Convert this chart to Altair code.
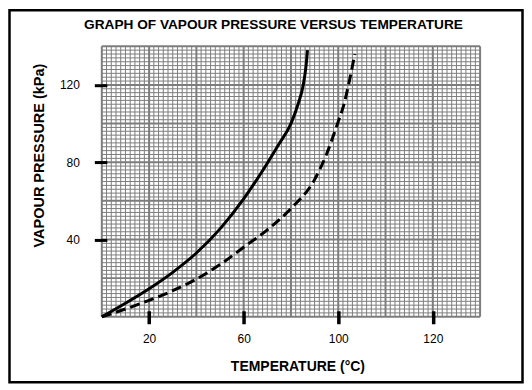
import altair as alt
import pandas as pd

# ---- data ----
solid_temp = [0, 10, 20, 30, 40, 50, 60, 70, 75, 80, 83, 85.2, 86.4, 87]
solid_pres = [0, 7, 14.5, 23, 33, 45.5, 61, 79.5, 89.5, 100, 110, 120, 130, 138]

dashed_temp = [0, 10, 20, 30, 40, 50, 60, 70, 80, 90, 95, 100, 102.2, 104.7, 107]
dashed_pres = [0, 4, 8.5, 13.5, 19.5, 27, 36, 45, 56, 71, 84, 101, 109, 122, 136]

x_tick_values = [20, 60, 100, 140]
x_tick_labels = ["20", "60", "100", "120"]
y_tick_values = [40, 80, 120]

X_MAX, Y_MAX = 160, 140
W, H = 379, 271

solid = pd.DataFrame({"t": solid_temp, "p": solid_pres, "i": range(len(solid_temp))})
dashed = pd.DataFrame({"t": dashed_temp, "p": dashed_pres, "i": range(len(dashed_temp))})

minor_x = pd.DataFrame({"v": [v for v in range(0, X_MAX + 1, 2) if v % 20]})
major_x = pd.DataFrame({"v": list(range(0, X_MAX + 1, 20))})
minor_y = pd.DataFrame({"v": [v for v in range(0, Y_MAX + 1, 2) if v % 20]})
major_y = pd.DataFrame({"v": list(range(0, Y_MAX + 1, 20))})

xs = alt.Scale(domain=[0, X_MAX], nice=False, zero=False)
ys = alt.Scale(domain=[0, Y_MAX], nice=False, zero=False)

label_expr = " : ".join(
    [f"datum.value == {v} ? '{l}'" for v, l in zip(x_tick_values, x_tick_labels)]
) + " : datum.label"

FONT = "Liberation Sans"
GRID = "#7d7d7d"

x_axis = alt.Axis(
    values=x_tick_values, labelExpr=label_expr, grid=False, domain=False,
    tickColor="black", tickWidth=3.5, tickSize=13, offset=-6, zindex=1,
    labelFont=FONT, labelFontSize=12, labelColor="black", labelPadding=10,
    title="TEMPERATURE (°C)", titleFont=FONT, titleFontSize=14, titleFontWeight="bold",
    titleColor="black", titleX=196, titleY=60, titleAlign="center", titleBaseline="alphabetic",
)
y_axis = alt.Axis(
    values=y_tick_values, grid=False, domain=False,
    tickColor="black", tickWidth=3, tickSize=12.5, offset=-5, zindex=1,
    labelFont=FONT, labelFontSize=12, labelColor="black", labelPadding=15,
    title="VAPOUR PRESSURE (kPa)", titleFont=FONT, titleFontSize=14.5, titleFontWeight="bold",
    titleColor="black", titleX=-63, titleY=109, titleAlign="center", titleBaseline="alphabetic",
    titleAngle=270,
)

gx_minor = alt.Chart(minor_x).mark_rule(color=GRID, strokeWidth=1).encode(
    x=alt.X("v:Q", scale=xs, axis=x_axis))
gy_minor = alt.Chart(minor_y).mark_rule(color=GRID, strokeWidth=1).encode(
    y=alt.Y("v:Q", scale=ys, axis=y_axis))
gx_major = alt.Chart(major_x).mark_rule(color=GRID, strokeWidth=2).encode(
    x=alt.X("v:Q", scale=xs))
gy_major = alt.Chart(major_y).mark_rule(color=GRID, strokeWidth=2).encode(
    y=alt.Y("v:Q", scale=ys))

line_solid = alt.Chart(solid).mark_line(color="black", strokeWidth=3, interpolate="monotone").encode(
    x=alt.X("t:Q", scale=xs), y=alt.Y("p:Q", scale=ys), order="i:Q")
line_dashed = alt.Chart(dashed).mark_line(color="black", strokeWidth=3, strokeDash=[10, 5],
                                          interpolate="monotone").encode(
    x=alt.X("t:Q", scale=xs), y=alt.Y("p:Q", scale=ys), order="i:Q")

one = pd.DataFrame({"a": [0]})
border = alt.Chart(one).mark_rect(fill="transparent", stroke="black", strokeWidth=2.5).encode(
    x=alt.value(-92.5), x2=alt.value(421.5), y=alt.value(-36), y2=alt.value(336.5))
title = alt.Chart(one).mark_text(
    text="GRAPH OF VAPOUR PRESSURE VERSUS TEMPERATURE", font=FONT, fontSize=13.7,
    fontWeight="bold", color="black", align="center", baseline="alphabetic").encode(
    x=alt.value(172), y=alt.value(-17))

chart = alt.layer(
    gx_minor, gy_minor, gx_major, gy_major, line_dashed, line_solid, border, title
).properties(width=W, height=H, padding=0, background="white").configure_view(stroke=None)

chart.save("out.html", embed_options={"renderer": "svg", "actions": False})
